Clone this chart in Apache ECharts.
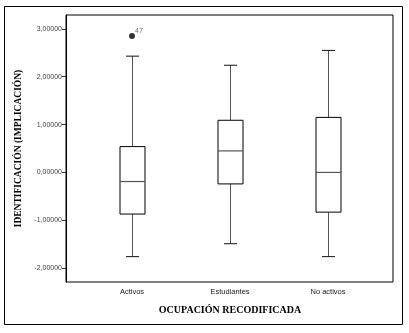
<!DOCTYPE html>
<html>
<head>
<meta charset="utf-8">
<script src="https://cdn.jsdelivr.net/npm/echarts@6/dist/echarts.min.js"></script>
<style>
  html, body { margin: 0; padding: 0; background: #fff; }
  #chart { width: 409px; height: 333px; }
</style>
</head>
<body>
<div id="chart"></div>
<script>
var categories = ['Activos', 'Estudiantes', 'No activos'];
// [min, Q1, mediana, Q3, max]
var boxValues = [
  [-1.76, -0.87, -0.19, 0.54, 2.43],
  [-1.49, -0.24, 0.45, 1.09, 2.24],
  [-1.76, -0.83, 0.00, 1.15, 2.55]
];
var outliers = [[0, 2.85]];
var outlierIds = ['47'];
var yTicks = [-2, -1, 0, 1, 2, 3];

var myChart = echarts.init(document.getElementById('chart'));

var yMin = -2.29, yMax = 3.29;
var sans = 'Liberation Sans';
var serif = 'Liberation Serif';

var boxData = boxValues.map(function (b, i) {
  return [i, b[0], b[1], b[2], b[3], b[4]];
});

function renderBox(params, api) {
  var i = api.value(0);
  var pMin = api.coord([i, api.value(1)]);
  var pQ1 = api.coord([i, api.value(2)]);
  var pMed = api.coord([i, api.value(3)]);
  var pQ3 = api.coord([i, api.value(4)]);
  var pMax = api.coord([i, api.value(5)]);
  var x = Math.round(pMed[0]) + 0.5;
  var hw = 12.5, cw = 6.5;
  var whisker = { stroke: '#555', lineWidth: 1 };
  var dark = { stroke: '#111', lineWidth: 1 };
  return {
    type: 'group',
    children: [
      { type: 'line', shape: { x1: x, y1: pQ3[1], x2: x, y2: pMax[1] }, style: whisker },
      { type: 'line', shape: { x1: x, y1: pQ1[1], x2: x, y2: pMin[1] }, style: whisker },
      { type: 'line', shape: { x1: x - cw, y1: pMax[1], x2: x + cw, y2: pMax[1] }, style: dark },
      { type: 'line', shape: { x1: x - cw, y1: pMin[1], x2: x + cw, y2: pMin[1] }, style: dark },
      { type: 'rect', shape: { x: x - hw, y: pQ3[1], width: hw * 2, height: pQ1[1] - pQ3[1] },
        style: { fill: '#fff', stroke: '#000', lineWidth: 1 } },
      { type: 'line', shape: { x1: x - hw, y1: pMed[1], x2: x + hw, y2: pMed[1] },
        style: { stroke: '#555', lineWidth: 1.2 } }
    ]
  };
}

myChart.setOption({
  backgroundColor: '#fff',
  animation: false,
  graphic: [{
    type: 'rect',
    shape: { x: 4.5, y: 6.5, width: 398, height: 318 },
    style: { fill: 'none', stroke: '#000', lineWidth: 1 }
  }],
  grid: [
    // marco del grafico
    { left: 66, top: 15, width: 327, height: 267, show: true, borderColor: '#000', borderWidth: 1, backgroundColor: 'transparent' },
    // zona de cajas
    { left: 83, top: 15, width: 294, height: 267 }
  ],
  xAxis: [
    { gridIndex: 0, type: 'value', show: false, min: 0, max: 1 },
    {
      gridIndex: 1,
      type: 'category',
      data: categories,
      axisLine: { show: false },
      axisTick: { show: true, alignWithLabel: true, length: 5, lineStyle: { color: '#333' } },
      axisLabel: { fontFamily: sans, fontSize: 7.5, color: '#222', margin: 6 },
      name: 'OCUPACIÓN RECODIFICADA',
      nameLocation: 'middle',
      nameGap: 23,
      nameTextStyle: { fontFamily: serif, fontWeight: 'bold', fontSize: 10, color: '#000' }
    }
  ],
  yAxis: [
    {
      gridIndex: 0,
      type: 'value',
      min: yMin,
      max: yMax,
      axisLine: { show: true, lineStyle: { color: '#000' } },
      axisTick: { show: true, length: 4, customValues: yTicks, lineStyle: { color: '#333' } },
      axisLabel: {
        customValues: yTicks,
        fontFamily: sans, fontSize: 7, color: '#444', margin: 4,
        formatter: function (v) { return v.toFixed(5).replace('.', ','); }
      },
      splitLine: { show: false },
      name: 'IDENTIFICACIÓN (IMPLICACIÓN)',
      nameLocation: 'middle',
      nameGap: 41,
      nameTextStyle: { fontFamily: serif, fontWeight: 'bold', fontSize: 9.5, color: '#000' }
    },
    { gridIndex: 1, type: 'value', min: yMin, max: yMax, show: false, splitLine: { show: false } }
  ],
  series: [
    {
      type: 'custom',
      xAxisIndex: 1,
      yAxisIndex: 1,
      data: boxData,
      renderItem: renderBox,
      encode: { x: 0, y: [1, 2, 3, 4, 5] }
    },
    {
      type: 'scatter',
      xAxisIndex: 1,
      yAxisIndex: 1,
      data: outliers,
      symbolSize: 6,
      itemStyle: { color: '#000' },
      label: {
        show: true,
        position: [6, -5],
        formatter: function (p) { return outlierIds[p.dataIndex]; },
        fontFamily: sans, fontSize: 7, color: '#444'
      }
    }
  ]
});
</script>
</body>
</html>
